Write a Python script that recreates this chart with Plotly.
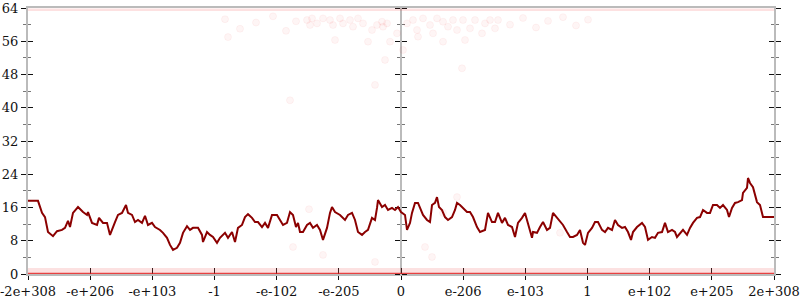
import plotly.graph_objects as go

# x is an ordinal position along the float line (0 .. 746), ticks every 746/12
tick_labels = ["-2e+308", "-e+206", "-e+103", "-1", "-e-102", "-e-205", "0",
               "e-206", "e-103", "1", "e+102", "e+205", "2e+308"]
y_ticks = [0, 8, 16, 24, 32, 40, 48, 56, 64]

avg_x = [0, 10, 14, 17, 20, 25, 29, 34, 37, 40,
         42, 45, 50, 55, 59, 60, 64, 69, 71, 75,
         79, 82, 87, 90, 94, 98, 100, 104, 107, 110,
         114, 117, 120, 124, 127, 132, 135, 139, 142, 145,
         149, 152, 155, 159, 162, 165, 170, 174, 175, 179,
         182, 185, 189, 192, 197, 200, 204, 207, 210, 214,
         217, 220, 224, 227, 230, 234, 237, 240, 244, 249,
         252, 255, 259, 262, 265, 268, 270, 272, 275, 279,
         282, 285, 289, 292, 295, 299, 302, 304, 307, 312,
         317, 320, 324, 327, 330, 334, 337, 340, 344, 347,
         349, 350, 354, 357, 360, 364, 367, 370, 373, 377,
         379, 382, 384, 387, 390, 392, 395, 399, 402, 404,
         407, 409, 411, 414, 417, 420, 424, 427, 429, 432,
         435, 439, 442, 445, 449, 452, 457, 460, 464, 467,
         470, 474, 477, 480, 484, 487, 490, 494, 497, 500,
         504, 505, 509, 512, 515, 519, 522, 525, 529, 532,
         535, 539, 542, 545, 549, 552, 555, 557, 560, 564,
         567, 570, 574, 577, 580, 584, 587, 590, 594, 597,
         600, 603, 605, 609, 614, 617, 620, 624, 627, 630,
         634, 637, 640, 644, 647, 649, 652, 655, 659, 662,
         665, 669, 672, 675, 679, 682, 685, 689, 692, 695,
         699, 701, 704, 707, 710, 714, 715, 719, 720, 722,
         725, 729, 732, 735, 746]
avg_y = [17.6, 17.6, 14.7, 13.7, 10.1, 9.1, 10.3, 10.6, 11.1, 12.8,
         11.3, 14.7, 16.1, 14.9, 14.2, 14.9, 12.3, 11.8, 13.5, 12.3,
         12.3, 9.4, 12.5, 14.2, 14.7, 16.6, 14.7, 14.2, 12.5, 13.0,
         12.3, 14.0, 11.8, 12.3, 11.3, 10.6, 9.9, 8.7, 7.0, 5.8,
         6.3, 7.5, 9.9, 11.5, 10.6, 11.1, 11.1, 9.4, 7.7, 10.1,
         9.4, 8.9, 7.5, 8.7, 9.9, 8.7, 10.1, 7.7, 11.1, 11.8,
         13.7, 14.4, 13.5, 12.5, 12.5, 11.3, 12.3, 11.1, 14.2, 14.2,
         13.0, 11.8, 12.3, 14.9, 14.2, 11.3, 12.3, 10.1, 10.1, 11.8,
         12.3, 11.1, 11.8, 10.6, 8.2, 11.1, 14.7, 16.1, 14.9, 14.2,
         13.0, 14.2, 14.7, 13.0, 10.1, 9.4, 10.1, 10.6, 13.5, 13.0,
         15.9, 17.8, 16.1, 16.6, 15.4, 15.9, 15.4, 16.1, 14.9, 14.2,
         10.6, 12.3, 14.7, 17.1, 17.1, 15.9, 14.2, 13.0, 12.5, 16.6,
         17.1, 18.5, 16.1, 15.4, 13.7, 13.0, 13.7, 15.4, 17.1, 16.6,
         15.9, 14.9, 14.9, 13.7, 11.3, 10.1, 10.6, 14.7, 12.5, 12.5,
         14.7, 12.3, 13.5, 11.8, 11.3, 8.9, 12.3, 13.5, 14.7, 12.3,
         8.7, 10.1, 9.9, 11.3, 12.5, 10.6, 11.1, 14.7, 13.5, 12.5,
         11.8, 10.1, 8.9, 8.9, 9.4, 10.6, 7.5, 7.0, 9.9, 11.1,
         12.5, 12.5, 10.6, 10.1, 11.1, 10.6, 13.0, 11.8, 11.1, 11.3,
         10.1, 8.2, 10.1, 11.3, 12.3, 11.3, 8.2, 8.9, 8.7, 9.9,
         10.1, 12.3, 10.1, 10.6, 10.1, 8.9, 9.9, 10.6, 9.4, 11.1,
         12.3, 13.5, 13.7, 15.4, 14.7, 14.7, 16.6, 16.6, 15.9, 16.6,
         15.4, 13.7, 15.9, 17.1, 17.3, 17.8, 19.5, 20.7, 23.1, 21.9,
         20.9, 17.3, 16.6, 13.7, 13.7]

# scattered individual sample errors (bits)
pt_x = [279, 284, 282, 289, 295, 302, 305, 307, 312, 315,
        322, 325, 330, 335, 340, 344, 349, 354, 355, 359,
        362, 369, 375, 379, 385, 389, 390, 395, 402, 405,
        409, 415, 415, 420, 425, 429, 435, 437, 442, 447,
        454, 457, 462, 467, 470, 357, 347, 434, 197, 212,
        228, 245, 258, 268, 482, 495, 508, 520, 535, 548,
        560, 200, 262, 281, 265, 295, 397, 404, 429, 415,
        532, 347]
pt_y = [61.1, 61.5, 59.9, 60.3, 61.5, 61.1, 59.9, 56.3, 61.5, 60.3,
        61.1, 59.5, 61.5, 60.3, 55.9, 58.7, 59.9, 60.7, 59.5, 60.3,
        55.9, 57.9, 53.9, 60.3, 61.1, 58.7, 57.1, 61.5, 59.9, 57.9,
        61.5, 60.7, 55.9, 59.5, 61.1, 58.7, 61.1, 56.3, 59.1, 61.1,
        57.9, 60.3, 61.1, 59.1, 61.1, 51.5, 45.5, 49.5, 61.3, 59.0,
        60.5, 62.0, 58.5, 60.8, 60.0, 61.6, 59.3, 60.9, 61.8, 59.8,
        61.2, 57.0, 41.8, 15.6, 6.5, 4.6, 6.5, 4.1, 18.5, 14.7,
        9.9, 2.9]

# dense concentrations of samples at exactly 0 and at maximum error
band_x = [0, 746]
exact_y = [0, 0]
near_exact_y = [0.7, 0.7]
max_err_y = [63.6, 63.6]

span = 746
tick_vals = [i * span / 12 for i in range(13)]

fig = go.Figure()
fig.add_trace(go.Scatter(x=band_x, y=near_exact_y, mode="lines",
                         line=dict(color="rgba(240,90,90,0.18)", width=6),
                         hoverinfo="skip"))
fig.add_trace(go.Scatter(x=band_x, y=max_err_y, mode="lines",
                         line=dict(color="rgba(240,70,70,0.16)", width=2.5),
                         hoverinfo="skip"))
fig.add_trace(go.Scatter(x=pt_x, y=pt_y, mode="markers",
                         marker=dict(size=7, color="rgba(230,30,30,0.045)",
                                     line=dict(width=0.6, color="rgba(230,30,30,0.08)")),
                         hoverinfo="skip"))
fig.add_trace(go.Scatter(x=band_x, y=exact_y, mode="lines",
                         line=dict(color="rgba(225,25,25,0.8)", width=2.5),
                         hoverinfo="skip"))
fig.add_trace(go.Scatter(x=avg_x, y=avg_y, mode="lines",
                         line=dict(color="#8b0000", width=2),
                         hoverinfo="skip"))

font = dict(family="DejaVu Serif", size=13, color="#111")
minor_out = dict(dtick=4, ticklen=3, tickcolor="#777", tickwidth=1, ticks="outside")
minor_in = dict(dtick=4, ticklen=3, tickcolor="#777", tickwidth=1, ticks="inside")
common_y = dict(range=[0, 64], tickvals=y_ticks, showgrid=False, zeroline=False,
                linecolor="#bbb", linewidth=2, tickcolor="#111", tickwidth=1.2,
                layer="below traces", fixedrange=True)

fig.update_layout(
    width=800, height=300,
    margin=dict(l=28, r=26, t=8, b=26, autoexpand=False),
    plot_bgcolor="white", paper_bgcolor="white",
    showlegend=False,
    font=dict(family="DejaVu Serif"),
    xaxis=dict(range=[0, span], tickvals=tick_vals, ticktext=tick_labels,
               showgrid=False, zeroline=False, showline=True, mirror=True,
               linecolor="#bbb", linewidth=2, ticks="outside", ticklen=4,
               tickcolor="#111", tickwidth=1.2, tickfont=font,
               ticklabeloverflow="allow", layer="below traces"),
    xaxis2=dict(range=[0, span], tickvals=tick_vals, overlaying="x",
                showticklabels=False, showgrid=False, zeroline=False,
                ticks="inside", ticklen=6, tickcolor="#111", tickwidth=1.2,
                layer="below traces"),
    yaxis=dict(**common_y, showline=True, ticks="outside", ticklen=5,
               minor=minor_out, tickfont=font, ticklabeloverflow="allow"),
    yaxis2=dict(**common_y, overlaying="y", side="left", showline=False,
                ticks="inside", ticklen=5, minor=minor_in, showticklabels=False),
    yaxis3=dict(**common_y, overlaying="y", anchor="free", position=0.5,
                side="left", showline=True, ticks="outside", ticklen=5,
                minor=minor_out, showticklabels=False),
    yaxis4=dict(**common_y, overlaying="y", anchor="free", position=0.5,
                side="right", showline=False, ticks="outside", ticklen=5,
                minor=minor_out, showticklabels=False),
    yaxis5=dict(**common_y, overlaying="y", side="right", showline=True,
                ticks="outside", ticklen=5, minor=minor_out,
                showticklabels=False),
    yaxis6=dict(**common_y, overlaying="y", side="right", showline=False,
                ticks="inside", ticklen=5, minor=minor_in,
                showticklabels=False),
)
# invisible anchor traces so that the extra axes are rendered
fig.add_trace(go.Scatter(x=[None], y=[None], xaxis="x2", yaxis="y2", showlegend=False))
for ax in ["y3", "y4", "y5", "y6"]:
    fig.add_trace(go.Scatter(x=[None], y=[None], yaxis=ax, showlegend=False))

fig.write_html("out.html")
